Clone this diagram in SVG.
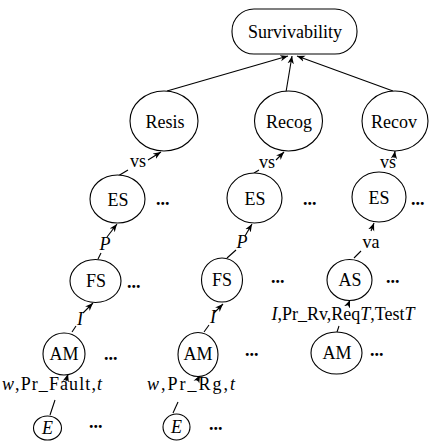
<svg xmlns="http://www.w3.org/2000/svg" width="429" height="441" viewBox="0 0 429 441" font-family="'Liberation Serif', 'DejaVu Serif', serif">
<defs>
<style>
.n{fill:#fff;stroke:#000;stroke-width:1.1}
.t{font-size:18px;fill:#000;text-anchor:middle}
.i{font-style:italic}
.d{font-size:18px;font-weight:bold;fill:#000}
.e{fill:none;stroke:#000;stroke-width:1.1}
.a{fill:none;stroke:#000;stroke-width:1.1;marker-end:url(#ah)}
</style>
<marker id="ah" viewBox="0 0 10 8" refX="10" refY="4" markerWidth="8" markerHeight="7" markerUnits="userSpaceOnUse" orient="auto">
<path d="M0,0 L10,4 L0,8 L3,4 Z" fill="#000"/>
</marker>
</defs>
<rect width="429" height="441" fill="#fff"/>
<g id="connectors">
<line class="a" x1="167" y1="91" x2="288" y2="56"/>
<line class="a" x1="286" y1="92" x2="292" y2="56"/>
<line class="a" x1="393" y1="91" x2="297" y2="56"/>
<line class="e" x1="118" y1="176" x2="128" y2="170"/>
<line class="a" x1="148" y1="160" x2="161" y2="152"/>
<line class="e" x1="254" y1="173" x2="259" y2="170"/>
<line class="a" x1="276" y1="160" x2="284" y2="152"/>
<line class="a" x1="394" y1="158" x2="395" y2="151"/>
<line class="e" x1="98" y1="259" x2="101" y2="253"/>
<line class="a" x1="107" y1="237" x2="117" y2="224"/>
<line class="e" x1="227" y1="258" x2="236" y2="250"/>
<line class="a" x1="245" y1="236" x2="252" y2="224"/>
<line class="a" x1="371" y1="231" x2="374" y2="223"/>
<line class="e" x1="354" y1="258" x2="361" y2="251"/>
<line class="e" x1="72" y1="332" x2="76" y2="326"/>
<line class="a" x1="83" y1="313" x2="93" y2="303"/>
<line class="e" x1="204" y1="332" x2="209" y2="325"/>
<line class="a" x1="214" y1="313" x2="223" y2="304"/>
<line class="a" x1="348" y1="305" x2="350" y2="300"/>
<line class="e" x1="337" y1="332" x2="339" y2="326"/>
<line class="a" x1="66" y1="381" x2="68" y2="374"/>
<line class="e" x1="50" y1="415" x2="55" y2="400"/>
<line class="a" x1="197" y1="381" x2="200" y2="375"/>
<line class="e" x1="173" y1="413" x2="178" y2="402"/>
</g>
<g id="survivability"><rect class="n" x="232" y="9" width="125" height="45" rx="22" ry="22"/><text class="t" x="295" y="38">Survivability</text></g>
<g id="resis"><ellipse class="n" cx="164" cy="121" rx="34" ry="30"/><text class="t" x="165" y="128">Resis</text></g>
<g id="recog"><ellipse class="n" cx="288.5" cy="121" rx="34" ry="30"/><text class="t" x="289" y="128">Recog</text></g>
<g id="recov"><ellipse class="n" cx="395" cy="121" rx="33" ry="30"/><text class="t" x="394" y="128">Recov</text></g>
<g id="es1"><ellipse class="n" cx="117.5" cy="199" rx="27.5" ry="24"/><text class="t" x="118" y="206">ES</text><text class="d" x="156" y="205">...</text></g>
<g id="es2"><ellipse class="n" cx="254.5" cy="198" rx="27.5" ry="25"/><text class="t" x="255" y="205">ES</text><text class="d" x="303" y="205">...</text></g>
<g id="es3"><ellipse class="n" cx="379" cy="197" rx="27" ry="25"/><text class="t" x="379" y="204">ES</text><text class="d" x="411" y="205">...</text></g>
<g id="fs1"><ellipse class="n" cx="95.5" cy="281" rx="25.5" ry="21.5"/><text class="t" x="96" y="287">FS</text><text class="d" x="127" y="288">...</text></g>
<g id="fs2"><ellipse class="n" cx="222" cy="280" rx="20.5" ry="22"/><text class="t" x="222" y="286">FS</text><text class="d" x="271" y="283">...</text></g>
<g id="as"><ellipse class="n" cx="349.5" cy="280" rx="22.5" ry="20.5"/><text class="t" x="350" y="286">AS</text><text class="d" x="386" y="283">...</text></g>
<g id="am1"><ellipse class="n" cx="64" cy="354" rx="21" ry="21"/><text class="t" x="64" y="360">AM</text><text class="d" x="104" y="360">...</text></g>
<g id="am2"><ellipse class="n" cx="198" cy="354.5" rx="20" ry="22"/><text class="t" x="198" y="360">AM</text><text class="d" x="245" y="356">...</text></g>
<g id="am3"><ellipse class="n" cx="336.5" cy="353" rx="25.5" ry="21"/><text class="t" x="337" y="359">AM</text><text class="d" x="370" y="356">...</text></g>
<g id="e1"><ellipse class="n" cx="47.5" cy="428" rx="14" ry="12"/><text class="t i" x="47.5" y="434">E</text><text class="d" x="89" y="428">...</text></g>
<g id="e2"><ellipse class="n" cx="176.5" cy="427" rx="13.5" ry="13"/><text class="t i" x="176.5" y="433">E</text><text class="d" x="209" y="430">...</text></g>
<g id="labels">
<text class="t" x="138" y="167">vs</text>
<text class="t" x="267" y="168">vs</text>
<text class="t" x="388" y="168">vs</text>
<text class="t i" x="105" y="250">P</text>
<text class="t i" x="242" y="248">P</text>
<text class="t" x="371" y="248">va</text>
<text class="t i" x="80" y="325">I</text>
<text class="t i" x="213" y="323">I</text>
<text class="t" x="52" y="390" textLength="100" lengthAdjust="spacing"><tspan class="i">w</tspan>,Pr_Fault,<tspan class="i">t</tspan></text>
<text class="t" x="191" y="390" textLength="88" lengthAdjust="spacing"><tspan class="i">w</tspan>,Pr_Rg,<tspan class="i">t</tspan></text>
<text class="t" x="343" y="320"><tspan class="i">I</tspan>,Pr_Rv,Req<tspan class="i">T</tspan>,Test<tspan class="i">T</tspan></text>
</g>
</svg>
